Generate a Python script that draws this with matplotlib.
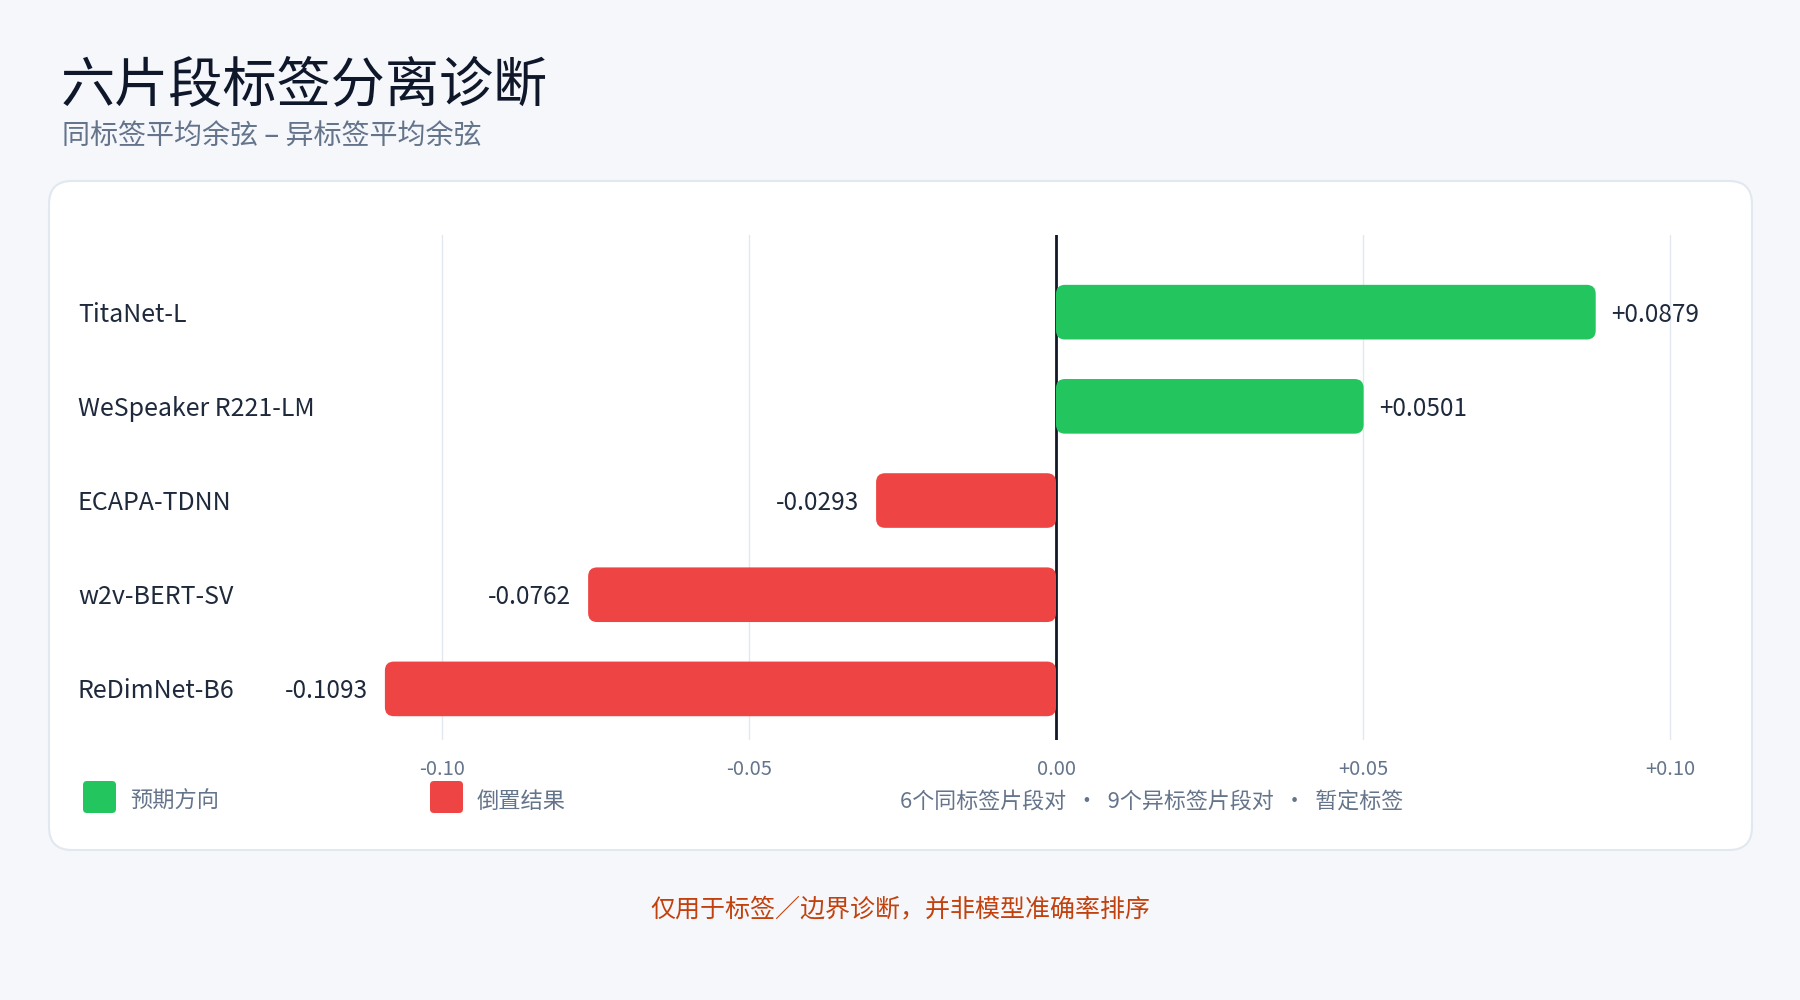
import numpy as np
import matplotlib
matplotlib.use("Agg")
import matplotlib.pyplot as plt
from matplotlib.patches import FancyBboxPatch
from matplotlib.transforms import blended_transform_factory

# data
models = ["TitaNet-L", "WeSpeaker R221-LM", "ECAPA-TDNN", "w2v-BERT-SV", "ReDimNet-B6"]
values = [0.0879, 0.0501, -0.0293, -0.0762, -0.1093]
tick_vals = [-0.10, -0.05, 0.0, 0.05, 0.10]
tick_text = ["-0.10", "-0.05", "0.00", "+0.05", "+0.10"]
legend_labels = ["预期方向", "倒置结果"]
note_text = "6个同标签片段对  •  9个异标签片段对  •  暂定标签"
title = "六片段标签分离诊断"
subtitle = "同标签平均余弦 – 异标签平均余弦"
footer = "仅用于标签／边界诊断，并非模型准确率排序"

BG = "#f5f7fb"
GREEN = "#22c55e"
RED = "#ef4444"
DARK = "#1e293b"
GRAY = "#64748b"

plt.rcParams['font.family'] = ['Noto Sans CJK SC', 'DejaVu Sans']

W, H = 1800, 1000


def fx(px):
    return px / W


def fy(py):
    return 1 - py / H


fig = plt.figure(figsize=(18, 10), dpi=100, facecolor=BG)

# card
card = FancyBboxPatch((fx(49), fy(850)), fx(1752) - fx(49), fy(181) - fy(850),
                      boxstyle="round,pad=0,rounding_size=%f" % (23 / W),
                      mutation_aspect=W / H, transform=fig.transFigure,
                      facecolor="white", edgecolor="#e2e8f0", linewidth=1.5, zorder=-5)
fig.patches.append(card)

fig.text(fx(61), fy(87), title, fontsize=39, color="#0f172a", va="center", ha="left", fontweight="medium")
fig.text(fx(62), fy(136), subtitle, fontsize=20.2, color=GRAY, va="center", ha="left")
fig.text(0.5, fy(909), footer, fontsize=18, color="#c2410c", va="center", ha="center")

# axes
ax_l, ax_r, ax_t, ax_b = 300, 1700, 235, 740
ax = fig.add_axes([fx(ax_l), fy(ax_b), (ax_r - ax_l) / W, (ax_b - ax_t) / H], zorder=2)
ax.set_facecolor("none")
ppu = (1670 - 442) / 0.2  # pixels per unit on x
ax.set_xlim(-0.10 - (442 - ax_l) / ppu, 0.10 + (ax_r - 1670) / ppu)
row = 94.0
ax.set_ylim(4 + (ax_b - 689) / row, -(312 - ax_t) / row)

for s in ax.spines.values():
    s.set_visible(False)
ax.set_yticks([])
ax.set_xticks(tick_vals)
ax.set_xticklabels(tick_text)
ax.tick_params(axis="x", length=0, pad=14, labelsize=14.5, labelcolor=GRAY)
ax.grid(axis="x", color="#e2e8f0", linewidth=1.0, zorder=0)
ax.set_axisbelow(True)

ax.axvline(0, color="#111827", linewidth=2.0, zorder=1.5)

bar_h = 0.58
r_px = 9
asp = ppu / row
dy = 2.5 / row  # nudge text down a little
for i, v in enumerate(values):
    col = GREEN if v >= 0 else RED
    p = FancyBboxPatch((min(0, v), i - bar_h / 2), abs(v), bar_h,
                       boxstyle="round,pad=0,rounding_size=%f" % (r_px / ppu),
                       mutation_aspect=asp, facecolor=col, edgecolor="none", zorder=2)
    ax.add_patch(p)
    off = 11 if v >= 0 else -12
    ax.annotate("%+.4f" % v, (v, i + dy), xytext=(off, 0), textcoords="offset points",
                ha="left" if v >= 0 else "right", va="center", fontsize=17.5, color=DARK)

tr = blended_transform_factory(fig.transFigure, ax.transData)
for i, m in enumerate(models):
    ax.text(fx(78), i + dy, m, transform=tr, ha="left", va="center", fontsize=18, color=DARK)

# legend
leg_x = [83, 430]
for x0, lab, col in zip(leg_x, legend_labels, [GREEN, RED]):
    sq = FancyBboxPatch((fx(x0), fy(813)), 33 / W, 32 / H,
                        boxstyle="round,pad=0,rounding_size=%f" % (4 / W),
                        mutation_aspect=W / H, transform=fig.transFigure,
                        facecolor=col, edgecolor="none")
    fig.patches.append(sq)
    fig.text(fx(x0 + 47), fy(801), lab, fontsize=16, color=GRAY, va="center", ha="left")

fig.text(fx(900), fy(802.5), note_text, fontsize=15.8, color=GRAY, va="center", ha="left")

fig.savefig("out.png", dpi=100, facecolor=BG)
